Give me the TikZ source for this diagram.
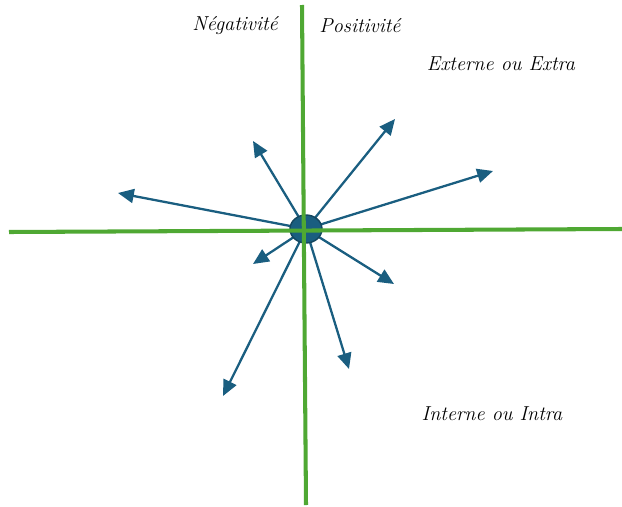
\documentclass[tikz,border=0pt]{standalone}
\usetikzlibrary{arrows.meta, shapes.geometric}
\definecolor{axisgreen}{HTML}{4FA833}
\definecolor{vecblue}{HTML}{1A5E80}
\definecolor{vecedge}{HTML}{14465F}
\begin{document}
\begin{tikzpicture}[x=0.02cm, y=-0.02cm, >={Triangle[length=9pt, width=8pt]},
    every node/.style={font=\fontsize{11.5}{13}\selectfont\itshape}]

    \useasboundingbox (0, 0) rectangle (622, 507);

    % centre
    \node[ellipse, minimum width=32*0.567pt, minimum height=28*0.567pt, inner sep=0pt] (c) at (306, 229) {};

    % extrémités des flèches
    \coordinate (t1) at (395, 119);
    \coordinate (t2) at (493, 171);
    \coordinate (t3) at (118, 193);
    \coordinate (t4) at (253, 141);
    \coordinate (t5) at (253, 264);
    \coordinate (t6) at (394, 284);
    \coordinate (t7) at (349, 369);
    \coordinate (t8) at (223, 396);

    % flèches
    \foreach \t in {t1, t2, t3, t4, t5, t6, t7, t8}
      \draw[->, vecblue, line width=1.3pt] (c.center) -- (\t);

    % disque central
    \fill[vecblue, draw=vecedge, line width=0.8pt] (c.center) ellipse (16 and 14);

    % axes
    \coordinate (xl) at (9, 232);
    \coordinate (xr) at (622, 229);
    \coordinate (yt) at (302, 5);
    \coordinate (yb) at (306, 505);
    \draw[axisgreen, line width=2.3pt] (xl) -- (xr);
    \draw[axisgreen, line width=2.3pt] (yt) -- (yb);

    % étiquettes
    \node (neg) at (235, 26) {Négativité};
    \node (pos) at (360, 26) {Positivité};
    \node (ext) at (501, 64) {Externe ou Extra};
    \node (int) at (492, 414) {Interne ou Intra};

  \end{tikzpicture}
\end{document}
